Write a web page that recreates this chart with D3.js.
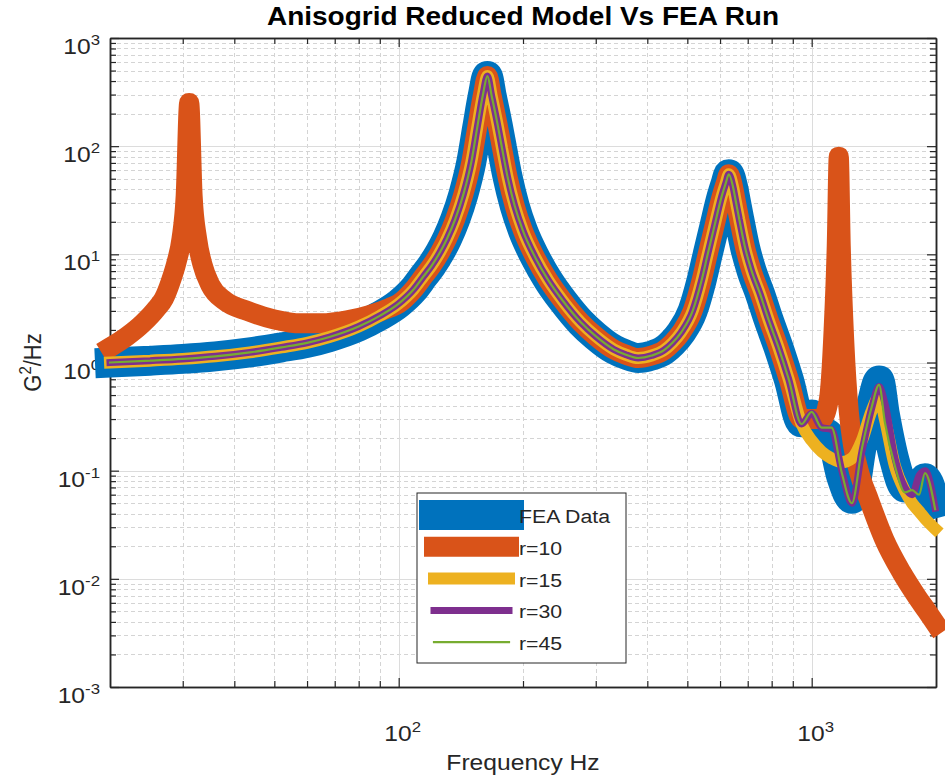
<!DOCTYPE html>
<html>
<head>
<meta charset="utf-8">
<script src="https://cdn.jsdelivr.net/npm/d3@7"></script>
<style>
body { margin: 0; background: #fff; }
text { font-family: "Liberation Sans", Arial, Helvetica, sans-serif; fill: #262626; }
</style>
</head>
<body>
<div id="chart"></div>
<script>
// ---- values ----
// frequency points (Hz) where all four curves run together
var bandFreq = [20, 25, 30, 36, 43.6, 52, 60, 68, 80, 90,
                100, 108.5, 115, 120, 126, 131, 137, 143.5, 150, 155,
                160, 164, 168, 173.5, 178, 183.5, 191, 200, 214, 230,
                250, 276, 300, 332, 355, 380, 410, 439, 460, 483,
                515, 541, 560, 581, 605, 620, 630, 645, 655, 668,
                690, 714, 750, 786, 830, 880];
var bandVals = [1.00, 1.04, 1.08, 1.14, 1.24, 1.38, 1.52, 1.72, 2.15, 2.7,
                3.5, 4.7, 6.3, 7.8, 10.5, 14, 21, 36, 72, 150,
                300, 445, 290, 160, 95, 52, 28, 16.5, 9.4, 5.8,
                3.7, 2.35, 1.75, 1.32, 1.18, 1.1, 1.16, 1.3, 1.52, 1.9,
                3.0, 5.7, 10, 18, 34, 46, 55, 42, 31, 21,
                11.5, 7.2, 4.3, 2.5, 1.4, 0.7];

// high-frequency part, where the reduced models split from the FEA run
var tailFreq = [945, 1000, 1057, 1117, 1183, 1251, 1323, 1398, 1456, 1504,
                1591, 1682, 1751, 1820, 1881, 1990];
var feaTail  = [0.28, 0.33, 0.24, 0.2, 0.085, 0.055, 0.17, 0.42, 0.68, 0.33,
                0.12, 0.07, 0.075, 0.065, 0.085, 0.05];
var r15Tail  = [0.27, 0.19, 0.15, 0.13, 0.12, 0.13, 0.19, 0.36, 0.48, 0.3,
                0.11, 0.065, 0.05, 0.042, 0.036, 0.029];
var r30Tail  = [0.27, 0.34, 0.25, 0.24, 0.1, 0.05, 0.15, 0.38, 0.6, 0.42,
                0.13, 0.07, 0.06, 0.09, 0.1, 0.045];
var r45Tail  = [0.27, 0.35, 0.25, 0.25, 0.095, 0.05, 0.16, 0.39, 0.62, 0.28,
                0.11, 0.063, 0.066, 0.06, 0.095, 0.044];

// r=10 has its own low and high parts, the middle follows the band from 108.5 Hz
var r10LowFreq  = [20, 22, 24, 26, 27, 28, 29, 29.8, 30.5, 31.1,
                   31.7, 32.5, 33.5, 35, 38, 43, 50, 58, 65, 75,
                   85, 95, 100];
var r10LowVals  = [1.38, 1.75, 2.3, 3.2, 3.9, 5.5, 8.5, 14, 35, 250,
                   35, 14, 8, 5.2, 3.7, 3.0, 2.5, 2.3, 2.3, 2.45,
                   2.75, 3.2, 3.5];
var r10HighFreq = [945, 1000, 1057, 1100, 1130, 1150, 1163, 1176, 1200, 1230,
                   1260, 1300, 1376, 1500, 1650, 1800, 1904, 2000];
var r10HighVals = [0.3, 0.3, 0.3, 0.45, 2, 12, 80, 12, 1.5, 0.35,
                   0.17, 0.1, 0.054, 0.023, 0.0115, 0.0068, 0.005, 0.0038];

var seriesNames = ["FEA Data", "r=10", "r=15", "r=30", "r=45"];
var yMajor = [1e-3, 1e-2, 1e-1, 1e0, 1e1, 1e2, 1e3];
var xMajor = [100, 1000];

// ---- build the series ----
function pairs(fs, vs) { return fs.map(function(f, i) { return [f, vs[i]]; }); }
var band = pairs(bandFreq, bandVals);
var series = [
    band.concat(pairs(tailFreq, feaTail)),
    pairs(r10LowFreq, r10LowVals).concat(band.slice(11), pairs(r10HighFreq, r10HighVals)),
    band.concat(pairs(tailFreq, r15Tail)),
    band.concat(pairs(tailFreq, r30Tail)),
    band.concat(pairs(tailFreq, r45Tail))
];
var colors = ["#0072BD", "#D95319", "#EDB120", "#7E2F8E", "#77AC30"];
var widths = [30, 20, 12, 7, 2.2];

// ---- canvas ----
var W = 945, H = 779;
var margin = {top: 38, right: 9, bottom: 92, left: 110};
var stretch = 1.12; // text in the figure is a bit wide

var svg = d3.select("#chart").append("svg")
    .attr("width", W).attr("height", H);

var x = d3.scaleLog().domain([20, 2000]).range([margin.left, W - margin.right]);
var y = d3.scaleLog().domain([1e-3, 1e3]).range([H - margin.bottom, margin.top]);
var x0 = x.range()[0], x1 = x.range()[1], y0 = y.range()[0], y1 = y.range()[1];

// minor tick values
var yMinor = [], xMinor = [];
for (var k = -3; k < 3; k++) for (var m = 2; m < 10; m++) yMinor.push(m * Math.pow(10, k));
[10, 100, 1000].forEach(function(d) {
    for (var m = 2; m < 10; m++) { var v = m * d; if (v > 20 && v < 2000) xMinor.push(v); }
});

// grid (crisp lines on whole pixels)
function px(v) { return Math.round(v) + 0.5; }
var grid = svg.append("g");
grid.selectAll(".gx").data(xMinor).enter().append("line")
    .attr("x1", function(d) { return px(x(d)); }).attr("x2", function(d) { return px(x(d)); })
    .attr("y1", y0).attr("y2", y1)
    .attr("stroke", "#d4d4d4").attr("stroke-dasharray", "4,3");
grid.selectAll(".gy").data(yMinor).enter().append("line")
    .attr("y1", function(d) { return px(y(d)); }).attr("y2", function(d) { return px(y(d)); })
    .attr("x1", x0).attr("x2", x1)
    .attr("stroke", "#d4d4d4").attr("stroke-dasharray", "4,3");
grid.selectAll(".Gx").data(xMajor).enter().append("line")
    .attr("x1", function(d) { return px(x(d)); }).attr("x2", function(d) { return px(x(d)); })
    .attr("y1", y0).attr("y2", y1)
    .attr("stroke", "#dcdcdc");
grid.selectAll(".Gy").data(yMajor.slice(1, -1)).enter().append("line")
    .attr("y1", function(d) { return px(y(d)); }).attr("y2", function(d) { return px(y(d)); })
    .attr("x1", x0).attr("x2", x1)
    .attr("stroke", "#dcdcdc");

// axes on all four sides, ticks pointing inward
function styleAxis(g) {
    g.selectAll("path").attr("stroke", "#262626").attr("stroke-width", 1.5);
    g.selectAll("line").attr("stroke", "#262626").attr("stroke-width", 1.2);
}
var axes = svg.append("g");
[[d3.axisBottom(x), "translate(0," + y0 + ")", xMajor, xMinor],
 [d3.axisTop(x), "translate(0," + y1 + ")", xMajor, xMinor],
 [d3.axisLeft(y), "translate(" + x0 + ",0)", yMajor, yMinor],
 [d3.axisRight(y), "translate(" + x1 + ",0)", yMajor, yMinor]].forEach(function(a) {
    axes.append("g").attr("transform", a[1])
        .call(a[0].tickValues(a[2]).tickSizeInner(-9).tickSizeOuter(0).tickFormat(""))
        .call(styleAxis);
    axes.append("g").attr("transform", a[1])
        .call(a[0].tickValues(a[3]).tickSizeInner(-6).tickSizeOuter(0).tickFormat(""))
        .call(styleAxis);
});

// tick labels as 10^n
function powText(g, v, anchor) {
    var t = g.append("text").attr("transform", "scale(" + stretch + ",1)")
        .attr("text-anchor", anchor).attr("font-size", "22px");
    t.append("tspan").text("10");
    t.append("tspan").attr("dy", -9).attr("font-size", "15px")
        .text(String(Math.round(Math.log10(v))));
}
yMajor.forEach(function(v) {
    powText(svg.append("g").attr("transform", "translate(" + (x0 - 10) + "," + (y(v) + 16) + ")"), v, "end");
});
xMajor.forEach(function(v) {
    powText(svg.append("g").attr("transform", "translate(" + (x(v) + 4) + "," + (y0 + 54) + ")"), v, "middle");
});

// data lines
var line = d3.line()
    .curve(d3.curveMonotoneX)
    .x(function(d) { return x(d[0]); })
    .y(function(d) { return y(d[1]); });
svg.append("g").selectAll("path").data(series).enter().append("path")
    .attr("d", line)
    .attr("fill", "none")
    .attr("stroke", function(d, i) { return colors[i]; })
    .attr("stroke-width", function(d, i) { return widths[i]; })
    .attr("stroke-linejoin", "bevel")
    .attr("stroke-linecap", "square");

// title and axis labels
svg.append("g").attr("transform", "translate(" + ((x0 + x1) / 2) + ",25)")
    .append("text").attr("transform", "scale(" + stretch + ",1)")
    .attr("text-anchor", "middle").attr("font-size", "25px").attr("font-weight", "bold")
    .style("fill", "#000")
    .text("Anisogrid Reduced Model Vs FEA Run");

svg.append("g").attr("transform", "translate(" + ((x0 + x1) / 2) + ",770)")
    .append("text").attr("transform", "scale(" + stretch + ",1)")
    .attr("text-anchor", "middle").attr("font-size", "22px")
    .text("Frequency Hz");

var yl = svg.append("g").attr("transform", "translate(41," + ((y0 + y1) / 2) + ") rotate(-90)")
    .append("text").attr("transform", "scale(1," + stretch + ")")
    .attr("text-anchor", "middle").attr("font-size", "22px");
yl.append("tspan").text("G");
yl.append("tspan").attr("dy", -9).attr("font-size", "15px").text("2");
yl.append("tspan").attr("dy", 9).text("/Hz");

// legend
var legend = svg.append("g");
legend.append("rect")
    .attr("x", 417).attr("y", 493).attr("width", 209).attr("height", 170)
    .attr("fill", "#fff").attr("stroke", "#262626").attr("stroke-width", 1);
seriesNames.forEach(function(name, i) {
    var ry = 515 + i * 31.8;
    legend.append("line")
        .attr("x1", 434).attr("x2", 509).attr("y1", ry).attr("y2", ry)
        .attr("stroke", colors[i]).attr("stroke-width", widths[i])
        .attr("stroke-linecap", "square");
    legend.append("g").attr("transform", "translate(519," + (ry + 8) + ")")
        .append("text").attr("transform", "scale(" + stretch + ",1)")
        .attr("font-size", "19px").text(name);
});
</script>
</body>
</html>
